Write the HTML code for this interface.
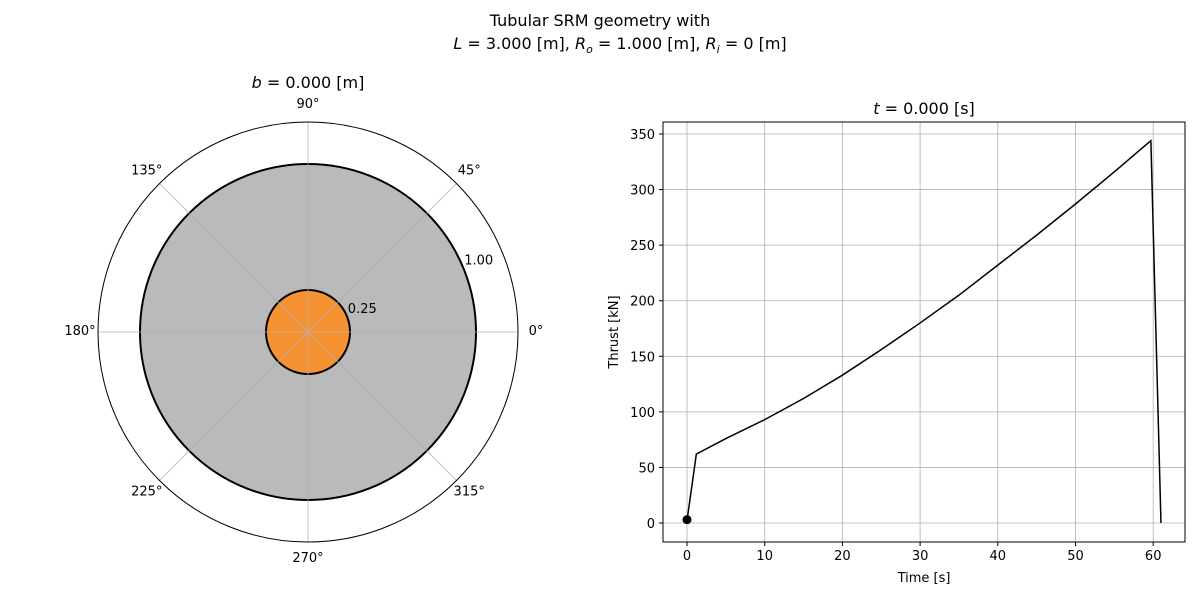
<!DOCTYPE html>
<html><head><meta charset="utf-8"><style>
body{margin:0;background:#fff;font-family:"Liberation Sans","DejaVu Sans",sans-serif;}
svg text{font-family:"DejaVu Sans","Liberation Sans",sans-serif;}
</style></head><body>
<svg id="svg" width="1200" height="600" xmlns="http://www.w3.org/2000/svg">
<rect width="1200" height="600" fill="#fff"/>
<text x="600" y="26" font-size="16" text-anchor="middle">Tubular SRM geometry with</text>
<text x="620" y="49" font-size="16" text-anchor="middle"><tspan font-style="italic">L</tspan> = 3.000 [m], <tspan font-style="italic">R</tspan><tspan font-size="11" dy="4" font-style="italic">o</tspan><tspan dy="-4"> = 1.000 [m], </tspan><tspan font-style="italic">R</tspan><tspan font-size="11" dy="4" font-style="italic">i</tspan><tspan dy="-4"> = 0 [m]</tspan></text>
<g id="polar"></g>
<g id="line"></g>
</svg>
<script>
const radii=[1.0,0.25];
const fills=["#bababa","#f79232"];
const rTickLabels=["0.25","1.00"];
const rTickVals=[0.25,1.0];
const angleTicks=[0,45,90,135,180,225,270,315];
const times=[0,1.2,5,10,15,20,25,30,35,40,45,50,55,59.7,61];
const thrust=[2,62,76,93,112,133,156,180,205,232,259,287,316,344,0];
const xTicks=[0,10,20,30,40,50,60];
const yTicks=[0,50,100,150,200,250,300,350];
const NS="http://www.w3.org/2000/svg";
function mk(p,t,a){const e=document.createElementNS(NS,t);for(const k in a)e.setAttribute(k,a[k]);p.appendChild(e);return e;}
const P=document.getElementById('polar');
const cx=308,cy=332,R=210,rmax=1.25;
const rs=v=>v/rmax*R;
mk(P,'circle',{cx,cy,r:R,fill:'#fff',stroke:'none'});
radii.forEach((r,i)=>{const c=mk(P,'circle',{cx,cy,r:rs(r),fill:fills[i],stroke:'#000','stroke-width':2});

});
angleTicks.forEach(a=>{const t=a*Math.PI/180;
const l=mk(P,'line',{x1:cx,y1:cy,x2:cx+R*Math.cos(t),y2:cy-R*Math.sin(t),stroke:'#b0b0b0','stroke-width':0.8});


const tx=mk(P,'text',{x:cx+(R+18)*Math.cos(t),y:cy-(R+17)*Math.sin(t)+3,'font-size':13,'text-anchor':'middle'});
tx.textContent=a+'°';

});
mk(P,'circle',{cx,cy,r:R,fill:'none',stroke:'#000','stroke-width':1});
rTickVals.forEach((v,i)=>{const t=22.5*Math.PI/180;
const tx=mk(P,'text',{x:cx+rs(v)*Math.cos(t)+1,y:cy-rs(v)*Math.sin(t)-3,'font-size':13});
tx.textContent=rTickLabels[i];

});
const pt=mk(P,'text',{x:308,y:88,'font-size':16,'text-anchor':'middle'});
pt.innerHTML='<tspan font-style="italic">b</tspan> = 0.000 [m]';


const L=document.getElementById('line');
const x0=663,x1=1185,y0=122,y1=542;
const xs=v=>687+(v-0)*7.77;
const ys=v=>523-v*(523-134)/350;
xTicks.forEach(v=>{const g=mk(L,'line',{x1:xs(v),x2:xs(v),y1:y0,y2:y1,stroke:'#b0b0b0','stroke-width':0.8});


mk(L,'line',{x1:xs(v),x2:xs(v),y1:y1,y2:y1+4,stroke:'#000'});
const t=mk(L,'text',{x:xs(v),y:y1+18,'font-size':13,'text-anchor':'middle'});t.textContent=v;

});
yTicks.forEach(v=>{const g=mk(L,'line',{x1:x0,x2:x1,y1:ys(v),y2:ys(v),stroke:'#b0b0b0','stroke-width':0.8});


mk(L,'line',{x1:x0-4,x2:x0,y1:ys(v),y2:ys(v),stroke:'#000'});
const t=mk(L,'text',{x:x0-8,y:ys(v)+5,'font-size':13,'text-anchor':'end'});t.textContent=v;

});
const path=mk(L,'polyline',{points:times.map((t,i)=>xs(t)+','+ys(thrust[i])).join(' '),fill:'none',stroke:'#000','stroke-width':1.5});


const m=mk(L,'circle',{cx:xs(times[0]),cy:ys(3),r:4.5,fill:'#000'});


mk(L,'rect',{x:x0,y:y0,width:x1-x0,height:y1-y0,fill:'none',stroke:'#000','stroke-width':1});
const lt=mk(L,'text',{x:924,y:114,'font-size':16,'text-anchor':'middle'});
lt.innerHTML='<tspan font-style="italic">t</tspan> = 0.000 [s]';


const xl=mk(L,'text',{x:924,y:582,'font-size':13,'text-anchor':'middle'});xl.textContent='Time [s]';


const yl=mk(L,'text',{x:618,y:332,'font-size':13,'text-anchor':'middle',transform:'rotate(-90 618 332)'});yl.textContent='Thrust [kN]';


</script>
</body></html>
